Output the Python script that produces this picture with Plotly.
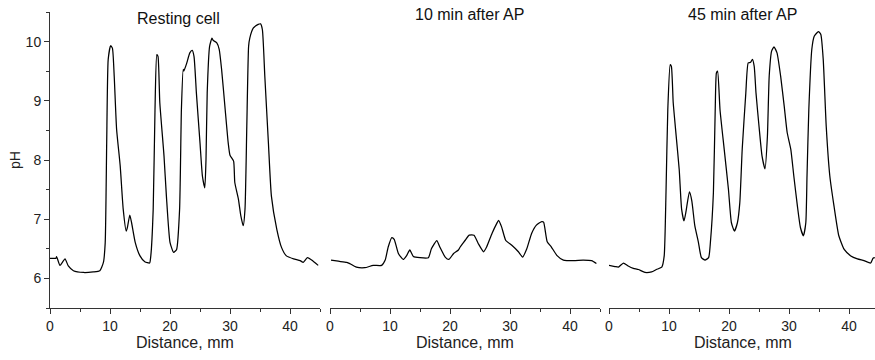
import plotly.graph_objects as go

# Resting cell
x_rest = [0, 1.0, 1.1, 1.67, 2.5, 3.05, 3.9, 5.6, 7.2, 8.3, 8.9, 9.2, 9.45, 9.7, 10.1, 10.4, 10.7, 11.1, 11.7,
          12.2, 12.7, 12.9, 13.3, 13.6, 14.2, 15.0, 15.8, 16.6, 16.8, 17.2, 17.5, 17.8, 18.0, 18.3, 19.0, 19.4,
          20.0, 20.6, 21.1, 21.6, 21.9, 22.2, 22.3, 22.8, 23.3, 23.7, 24.0, 24.4, 25.0, 25.4, 25.8, 26.0, 26.2,
          26.6, 27.0, 27.2, 27.8, 28.2, 28.6, 29.2, 29.7, 30.0, 30.6, 30.8, 31.4, 31.8, 32.2, 32.5, 32.8, 33.1,
          33.3, 33.9, 34.7, 35.1, 35.4, 35.8, 36.4, 36.9, 37.8, 38.6, 39.4, 40.6, 41.7, 42.2, 42.9, 43.6, 44.7]
y_rest = [6.34, 6.34, 6.37, 6.22, 6.33, 6.21, 6.13, 6.10, 6.11, 6.13, 6.27, 6.6, 8.29, 9.70, 9.93, 9.89, 9.42,
          8.52, 7.90, 7.17, 6.80, 6.86, 7.07, 6.94, 6.61, 6.38, 6.28, 6.26, 6.38, 7.17, 8.85, 9.78, 9.75, 8.97,
          8.07, 7.39, 6.61, 6.44, 6.49, 7.17, 8.85, 9.53, 9.50, 9.64, 9.81, 9.85, 9.75, 9.13, 8.29, 7.73, 7.53,
          8.01, 9.13, 9.92, 10.06, 10.02, 9.98, 9.87, 9.53, 8.85, 8.29, 8.08, 7.98, 7.62, 7.34, 7.06, 6.89,
          7.17, 8.57, 9.92, 10.06, 10.23, 10.29, 10.30, 10.20, 9.42, 8.29, 7.39, 6.83, 6.52, 6.38, 6.33, 6.30,
          6.27, 6.35, 6.31, 6.22]

# 10 min after AP
x_10 = [0.17, 1.39, 2.78, 3.3, 4.4, 5.8, 7.2, 8.6, 9.2, 9.7, 10.3, 10.7, 11.4, 12.2, 12.8, 13.3, 13.9, 15.0,
        16.4, 16.9, 17.8, 18.3, 19.2, 19.8, 20.6, 21.4, 21.7, 22.2, 22.5, 23.2, 24.0, 24.7, 25.6, 26.1, 27.0,
        27.8, 28.1, 28.6, 29.3, 30.3, 31.4, 32.1, 32.8, 33.6, 34.4, 35.3, 35.6, 36.2, 36.9, 37.8, 38.9, 40.6,
        42.2, 43.6, 44.4]
y_10 = [6.31, 6.29, 6.27, 6.25, 6.19, 6.18, 6.22, 6.22, 6.31, 6.53, 6.69, 6.66, 6.42, 6.32, 6.39, 6.48, 6.37,
        6.35, 6.35, 6.50, 6.64, 6.53, 6.36, 6.32, 6.42, 6.48, 6.53, 6.60, 6.64, 6.73, 6.73, 6.59, 6.45, 6.53,
        6.76, 6.93, 6.98, 6.87, 6.64, 6.56, 6.45, 6.36, 6.50, 6.76, 6.90, 6.96, 6.95, 6.62, 6.53, 6.39, 6.31,
        6.30, 6.31, 6.30, 6.25]

# 45 min after AP
x_45 = [0, 1.0, 1.56, 2.4, 3.2, 4.06, 4.9, 6.0, 7.1, 7.9, 8.8, 9.2, 9.5, 9.8, 10.2, 10.4, 10.7, 11.2, 11.7,
        12.1, 12.5, 12.8, 13.4, 13.8, 14.3, 14.9, 15.4, 16.0, 16.6, 16.9, 17.4, 17.7, 17.9, 18.1, 18.5, 19.2,
        19.9, 20.4, 20.9, 21.4, 21.8, 22.2, 22.8, 23.2, 23.6, 23.9, 24.2, 24.5, 25.0, 25.5, 26.0, 26.4, 26.7,
        27.1, 27.5, 28.0, 28.6, 29.2, 29.7, 30.3, 30.8, 31.4, 31.9, 32.4, 32.8, 33.0, 33.3, 33.8, 34.2, 34.9,
        35.3, 35.7, 36.2, 36.8, 37.5, 38.3, 39.2, 40.3, 41.4, 42.5, 43.6, 44.0, 44.3]
y_45 = [6.22, 6.20, 6.19, 6.26, 6.21, 6.17, 6.15, 6.10, 6.11, 6.15, 6.19, 6.38, 7.45, 8.85, 9.61, 9.58, 8.97,
        8.40, 7.84, 7.17, 6.97, 7.11, 7.46, 7.31, 6.89, 6.61, 6.35, 6.31, 6.35, 6.61, 7.45, 8.85, 9.47, 9.50,
        8.85, 8.18, 7.51, 6.94, 6.80, 6.94, 7.28, 8.18, 9.13, 9.64, 9.65, 9.70, 9.58, 9.13, 8.57, 8.07, 7.85,
        8.40, 9.42, 9.84, 9.91, 9.81, 9.42, 8.91, 8.46, 8.18, 7.73, 7.22, 6.86, 6.72, 6.94, 7.73, 8.85, 9.87,
        10.09, 10.17, 10.12, 9.70, 8.57, 7.73, 7.22, 6.72, 6.49, 6.38, 6.33, 6.30, 6.26, 6.34, 6.35]

panel_titles = ["Resting cell", "10 min after AP", "45 min after AP"]
x_title = "Distance, mm"
y_title = "pH"

FONT = "Liberation Sans, Arial, sans-serif"
W, H = 875, 360
ML, MR, MT, MB = 50, 0, 12, 52
PW = W - ML - MR
PH = H - MT - MB

def px2x(p):
    return (p - ML) / PW

def py2y(p):
    return (H - MB - p) / PH

fig = go.Figure()
line = dict(color="black", width=1.25, shape="spline", smoothing=0.5)
fig.add_trace(go.Scatter(x=x_rest, y=y_rest, mode="lines", line=line, xaxis="x", yaxis="y", showlegend=False))
fig.add_trace(go.Scatter(x=x_10, y=y_10, mode="lines", line=line, xaxis="x2", yaxis="y2", showlegend=False))
fig.add_trace(go.Scatter(x=x_45, y=y_45, mode="lines", line=line, xaxis="x3", yaxis="y3", showlegend=False))

xcommon = dict(
    showline=True, linecolor="#333", linewidth=1,
    ticks="outside", ticklen=5, tickwidth=1, tickcolor="#333",
    tickmode="array", tickvals=[0, 10, 20, 30, 40],
    minor=dict(ticks="outside", ticklen=3, tickcolor="#333", tickmode="array", tickvals=[5, 15, 25, 35, 45]),
    showgrid=False, zeroline=False,
    tickfont=dict(family=FONT, size=14, color="#222"),
)

fig.update_layout(
    width=W, height=H,
    margin=dict(l=ML, r=MR, t=MT, b=MB),
    paper_bgcolor="white", plot_bgcolor="white",
    xaxis=dict(domain=[px2x(50), px2x(320)], range=[0, 45], anchor="y", **xcommon),
    xaxis2=dict(domain=[px2x(330), px2x(600)], range=[0, 45], anchor="y2", **xcommon),
    xaxis3=dict(domain=[px2x(609), 1.0], range=[0, 44.33], anchor="y3", **xcommon),
    yaxis=dict(range=[5.5, 10.5], anchor="x", showline=True, linecolor="#333", linewidth=1,
               ticks="outside", ticklen=5, tickcolor="#333",
               tickmode="array", tickvals=[6, 7, 8, 9, 10],
               minor=dict(ticks="outside", ticklen=3, tickcolor="#333", tickmode="array",
                          tickvals=[5.5, 6.5, 7.5, 8.5, 9.5, 10.5]),
               showgrid=False, zeroline=False,
               tickfont=dict(family=FONT, size=14, color="#222")),
    yaxis2=dict(range=[5.5, 10.5], anchor="x2", visible=False),
    yaxis3=dict(range=[5.5, 10.5], anchor="x3", visible=False),
    font=dict(family=FONT, color="#222"),
)

annotations = [
    dict(text=panel_titles[0], x=px2x(178), y=py2y(18)),
    dict(text=panel_titles[1], x=px2x(470), y=py2y(15)),
    dict(text=panel_titles[2], x=px2x(742), y=py2y(15)),
]
for a in annotations:
    fig.add_annotation(xref="paper", yref="paper", showarrow=False, xanchor="center", yanchor="middle",
                       font=dict(family=FONT, size=16, color="#111"), **a)
for cx in (185, 465, 743):
    fig.add_annotation(text=x_title, xref="paper", yref="paper", x=px2x(cx), y=py2y(342),
                       showarrow=False, xanchor="center", yanchor="middle",
                       font=dict(family=FONT, size=16, color="#222"))
fig.add_annotation(text=y_title, xref="paper", yref="paper", x=px2x(15), y=py2y(160), textangle=-90,
                   showarrow=False, xanchor="center", yanchor="middle",
                   font=dict(family=FONT, size=14, color="#222"))

fig.write_html("out.html", config={"displayModeBar": False},
               post_script="document.body.style.margin='0';document.body.style.overflow='hidden';")
